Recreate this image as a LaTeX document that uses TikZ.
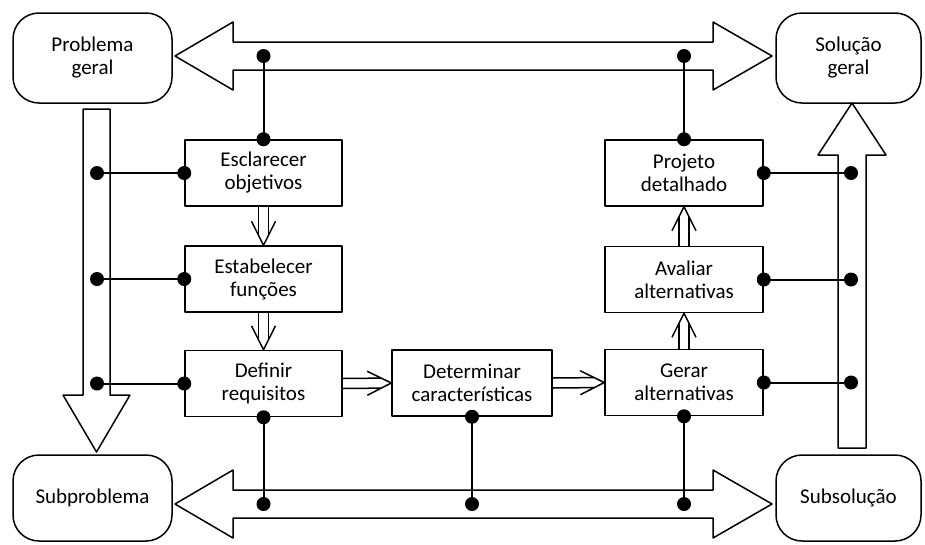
\documentclass[tikz,border=0pt]{standalone}
\usepackage{fontspec}
\setmainfont{Carlito}
\usepackage{tikz}
\usetikzlibrary{calc}

\newcommand{\dblarrow}[2]{%
	\coordinate (ha) at ($(#2)!10pt!(#1)$);
	\coordinate (hb) at ($(#2)!24pt!(#1)$);
	\draw ($(#1)!5pt!90:(#2)$) -- ($(ha)!5pt!-90:(#1)$);
	\draw ($(#1)!5pt!-90:(#2)$) -- ($(ha)!5pt!90:(#1)$);
	\draw ($(hb)!12pt!90:(#1)$) -- (#2) -- ($(hb)!12pt!-90:(#1)$);
}

\begin{document}
\begin{tikzpicture}[x=1pt, y=-1pt, line width=1.5pt, line join=round,
	font=\fontsize{21}{23}\selectfont,
	rbox/.style={draw, rounded corners=26pt, align=center, inner sep=0pt},
	box/.style={draw, align=center, minimum width=157pt, minimum height=66pt, inner sep=0pt},
	link/.style={line width=2pt},
	dot/.style={circle, fill, inner sep=0pt, minimum size=14pt}]
	\useasboundingbox (0,0) rectangle (925,544);

	% big hollow arrows
	\draw (175,56) -- (233,22) -- (233,42) -- (713,42) -- (713,22) -- (772,56)
		-- (713,90) -- (713,70) -- (233,70) -- (233,90) -- cycle;
	\draw (175,504) -- (233,470) -- (233,490) -- (713,490) -- (713,470) -- (772,504)
		-- (713,538) -- (713,518) -- (233,518) -- (233,538) -- cycle;
	\draw (83,109) -- (110,109) -- (110,395) -- (130,395) -- (96.5,452) -- (63,395) -- (83,395) -- cycle;
	\draw (838,448) -- (866,448) -- (866,155) -- (886,155) -- (852,103) -- (818,155) -- (838,155) -- cycle;

	\coordinate (top) at (0,56);
	\coordinate (bot) at (0,504);
	\coordinate (lft) at (97,0);
	\coordinate (rgt) at (851,0);

	% corner boxes
	\node[rbox, minimum width=159pt, minimum height=90pt] (pg) at (92.5,58) {Problema\\geral};
	\node[rbox, minimum width=145pt, minimum height=90pt] (sg) at (848.5,58) {Solução\\geral};
	\node[rbox, minimum width=159pt, minimum height=86pt] (sp) at (92.5,498) {Subproblema};
	\node[rbox, minimum width=145pt, minimum height=86pt] (ss) at (848.5,498) {Subsolução};

	% steps
	\node[box] (esc) at (263.5,173) {Esclarecer\\objetivos};
	\node[box] (est) at (263.5,279) {Estabelecer\\funções};
	\node[box] (def) at (263.5,383.5) {Definir\\requisitos};
	\node[box, minimum width=160pt] (det) at (472,383) {Determinar\\características};
	\node[box, minimum width=158pt] (ger) at (684,382.5) {Gerar\\alternativas};
	\node[box, minimum width=158pt] (ava) at (684,279.5) {Avaliar\\alternativas};
	\node[box, minimum width=158pt] (pro) at (684,173) {Projeto\\detalhado};

	\dblarrow{esc.south}{est.north}
	\dblarrow{est.south}{def.north}
	\dblarrow{def.east}{det.west}
	\dblarrow{det.east}{ger.west}
	\dblarrow{ger.north}{ava.south}
	\dblarrow{ava.north}{pro.south}

	% links
	\draw[link] (esc.north) -- (esc.north |- top);
	\draw[link] (pro.north) -- (pro.north |- top);
	\draw[link] (esc.west) -- (esc.west -| lft);
	\draw[link] (est.west) -- (est.west -| lft);
	\draw[link] (def.west) -- (def.west -| lft);
	\draw[link] (pro.east) -- (pro.east -| rgt);
	\draw[link] (ava.east) -- (ava.east -| rgt);
	\draw[link] (ger.east) -- (ger.east -| rgt);
	\draw[link] (def.south) -- (def.south |- bot);
	\draw[link] (det.south) -- (det.south |- bot);
	\draw[link] (ger.south) -- (ger.south |- bot);

	\foreach \p in {esc.north, pro.north, esc.west, est.west, def.west,
		pro.east, ava.east, ger.east, def.south, det.south, ger.south}
		\node[dot] at (\p) {};
	\node[dot] (d1) at (esc.north |- top) {};
	\node[dot] (d2) at (pro.north |- top) {};
	\node[dot] (d3) at (esc.west -| lft) {};
	\node[dot] (d4) at (est.west -| lft) {};
	\node[dot] (d5) at (def.west -| lft) {};
	\node[dot] (d6) at (pro.east -| rgt) {};
	\node[dot] (d7) at (ava.east -| rgt) {};
	\node[dot] (d8) at (ger.east -| rgt) {};
	\node[dot] (d9) at (def.south |- bot) {};
	\node[dot] (d10) at (det.south |- bot) {};
	\node[dot] (d11) at (ger.south |- bot) {};
\end{tikzpicture}
\end{document}
